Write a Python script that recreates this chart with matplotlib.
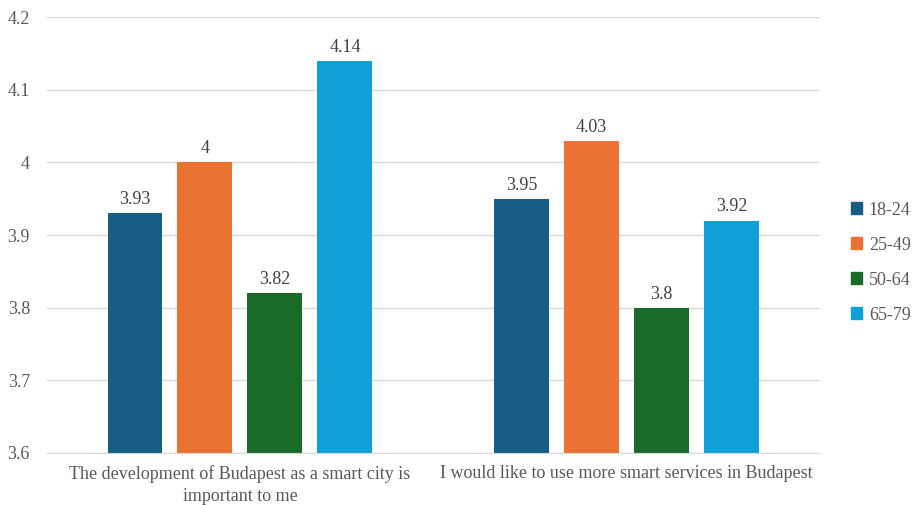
import matplotlib.pyplot as plt
import numpy as np
from matplotlib.patches import Patch

plt.rcParams['font.family'] = ['Liberation Serif', 'DejaVu Serif']

categories = ['The development of Budapest as a smart city is\nimportant to me',
              'I would like to use more smart services in Budapest']
groups = ['18-24', '25-49', '50-64', '65-79']
values = {
    '18-24': [3.93, 3.95],
    '25-49': [4.00, 4.03],
    '50-64': [3.82, 3.80],
    '65-79': [4.14, 3.92],
}
labels = {
    '18-24': ['3.93', '3.95'],
    '25-49': ['4', '4.03'],
    '50-64': ['3.82', '3.8'],
    '65-79': ['4.14', '3.92'],
}
colors = ['#165E83', '#EA7333', '#1B6B28', '#10A0D8']

fig = plt.figure(figsize=(9.14, 5.05), dpi=100)
ax = fig.add_axes([0.051, 0.103, 0.846, 0.863])

x = np.arange(len(categories))
width = 0.142
step = 0.181
base = 3.6
for i, g in enumerate(groups):
    pos = x + (i - 1.5) * step
    vals = np.array(values[g])
    ax.bar(pos, vals - base, width, bottom=base, color=colors[i], zorder=3)
    for p, v, t in zip(pos, vals, labels[g]):
        ax.text(p, v + 0.007, t, ha='center', va='bottom', fontsize=13, color='#404040')

ax.set_xlim(-0.5, 1.5)
ax.set_ylim(3.6, 4.2)
ax.set_yticks([3.6, 3.7, 3.8, 3.9, 4.0, 4.1, 4.2])
ax.set_yticklabels(['3.6', '3.7', '3.8', '3.9', '4', '4.1', '4.2'])
ax.set_xticks(x)
ax.set_xticklabels(categories, linespacing=1.35)
ax.tick_params(axis='both', length=0, labelsize=13, colors='#595959')
ax.tick_params(axis='x', pad=9)
ax.tick_params(axis='y', pad=12)
ax.grid(axis='y', color='#D9D9D9', linewidth=1, zorder=0)
for s in ['top', 'right', 'left']:
    ax.spines[s].set_visible(False)
ax.spines['bottom'].set_color('#D9D9D9')
ax.spines['bottom'].set_zorder(4)

handles = [Patch(color=c, label=g) for c, g in zip(colors, groups)]
leg = fig.legend(handles=handles, loc='center left', bbox_to_anchor=(0.913, 0.48),
                 frameon=False, fontsize=13, handlelength=0.65, handleheight=0.65,
                 handletextpad=0.35, labelspacing=1.0)
for t in leg.get_texts():
    t.set_color('#595959')

fig.savefig('out.png', dpi=100)
